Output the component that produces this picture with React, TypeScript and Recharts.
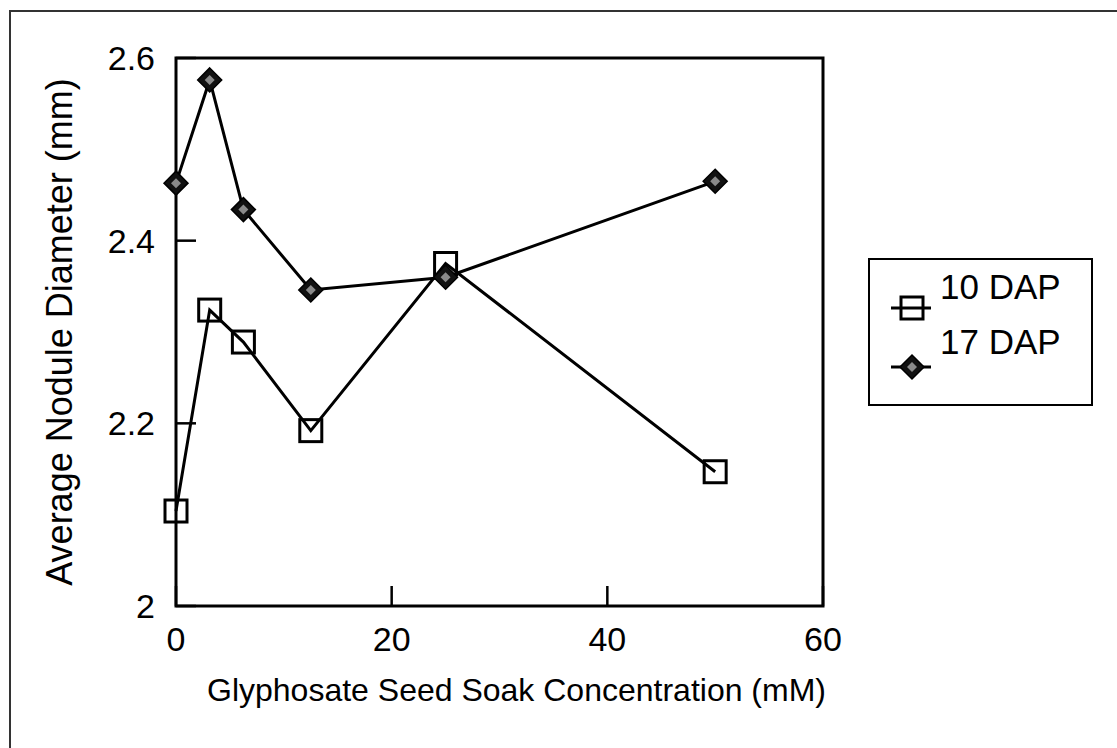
import { LineChart, Line, XAxis, YAxis, ReferenceArea, Legend } from "recharts";

// glyphosate seed soak concentrations (mM)
const CONC = [0, 3.125, 6.25, 12.5, 25, 50];
// average nodule diameter (mm)
const DAP10 = [2.104, 2.324, 2.289, 2.192, 2.375, 2.147];
const DAP17 = [2.463, 2.576, 2.434, 2.346, 2.36, 2.465];

const X_TICKS = [0, 20, 40, 60];
const Y_TICKS = [2, 2.2, 2.4, 2.6];

const SERIES = [
  { key: "d10", name: "10 DAP", values: DAP10 },
  { key: "d17", name: "17 DAP", values: DAP17 },
];

const FONT = "'Liberation Sans', Arial, sans-serif";

const data = CONC.map((c, i) => ({ conc: c, d10: DAP10[i], d17: DAP17[i] }));

function SquareMark({ cx, cy }: any) {
  if (cx == null || cy == null) return null;
  return <rect x={cx - 11} y={cy - 11} width={22} height={22} fill="none" stroke="#000" strokeWidth={3} />;
}

function DiamondMark({ cx, cy }: any) {
  if (cx == null || cy == null) return null;
  const r = 12;
  const ri = 5;
  return (
    <g>
      <polygon points={`${cx},${cy - r} ${cx + r},${cy} ${cx},${cy + r} ${cx - r},${cy}`} fill="#111" stroke="#000" strokeWidth={1.5} />
      <polygon points={`${cx},${cy - ri} ${cx + ri},${cy} ${cx},${cy + ri} ${cx - ri},${cy}`} fill="#8a8a8a" />
    </g>
  );
}

function LegendBox({ payload }: any) {
  const items = payload || [];
  return (
    <div style={{ width: 221, height: 144, border: "2px solid #000", background: "#fff" }}>
      <svg width={221} height={144}>
        {items.map((it: any, i: number) => {
          const textY = 39 + i * 55;
          const iconY = 48 + i * 59;
          return (
            <g key={it.value}>
              <line x1={21} x2={61} y1={iconY} y2={iconY} stroke="#000" strokeWidth={3} />
              {i === 0 ? <SquareMark cx={42} cy={iconY} /> : <DiamondMark cx={42} cy={iconY} />}
              <text x={70} y={textY} fontSize={35} fontFamily={FONT} fill="#000">
                {it.value}
              </text>
            </g>
          );
        })}
      </svg>
    </div>
  );
}

export default function App() {
  return (
    <div style={{ position: "fixed", left: 0, top: 0, width: 1117, height: 748, background: "#fff", fontFamily: FONT }}>
      {/* scan frame: only top and left edges visible */}
      <div style={{ position: "absolute", left: 9, top: 10, right: 0, bottom: 0, borderTop: "2px solid #333", borderLeft: "2px solid #333" }} />
      <div style={{ position: "absolute", left: 0, top: 0 }}>
        <LineChart width={1117} height={748} data={data} margin={{ top: 58, right: 294, bottom: 22, left: 0 }}>
          <XAxis
            dataKey="conc"
            type="number"
            domain={[0, 60]}
            ticks={X_TICKS}
            height={120}
            axisLine={false}
            tickLine={{ stroke: "#000", strokeWidth: 2.5 }}
            tickSize={-20}
            tickMargin={41}
            tick={{ fontSize: 34, fill: "#000", fontFamily: FONT }}
            label={{
              content: (p: any) => {
                const vb = p.viewBox;
                const cx = vb.x + vb.width / 2 + 17;
                const cy = vb.y + 84;
                return (
                  <text x={cx} y={cy} textAnchor="middle" dominantBaseline="central" fontSize={32} fontFamily={FONT} fill="#000">
                    Glyphosate Seed Soak Concentration (mM)
                  </text>
                );
              },
            }}
          />
          <YAxis
            type="number"
            domain={[2, 2.6]}
            ticks={Y_TICKS}
            width={176}
            axisLine={false}
            tickLine={{ stroke: "#000", strokeWidth: 2.5 }}
            tickSize={-20}
            tickMargin={41}
            tick={{ fontSize: 34, fill: "#000", fontFamily: FONT }}
            label={{
              content: (p: any) => {
                const vb = p.viewBox;
                const cx = vb.x + 59;
                const cy = vb.y + vb.height / 2;
                return (
                  <text
                    x={cx}
                    y={cy}
                    transform={`rotate(-90 ${cx} ${cy})`}
                    textAnchor="middle"
                    dominantBaseline="central"
                    fontSize={36}
                    fontFamily={FONT}
                    fill="#000"
                  >
                    Average Nodule Diameter (mm)
                  </text>
                );
              },
            }}
          />
          <ReferenceArea x1={0} x2={60} y1={2} y2={2.6} fill="none" fillOpacity={0} stroke="#000" strokeWidth={3} />
          {SERIES.map((s, i) => (
            <Line
              key={s.key}
              dataKey={s.key}
              name={s.name}
              stroke="#000"
              strokeWidth={3}
              dot={i === 0 ? <SquareMark /> : <DiamondMark />}
              activeDot={false}
              isAnimationActive={false}
            />
          ))}
          <Legend
            layout="horizontal"
            verticalAlign="middle"
            align="center"
            content={<LegendBox />}
            wrapperStyle={{ left: 868, top: 258, width: 225, height: 148 }}
          />
        </LineChart>
      </div>
    </div>
  );
}
